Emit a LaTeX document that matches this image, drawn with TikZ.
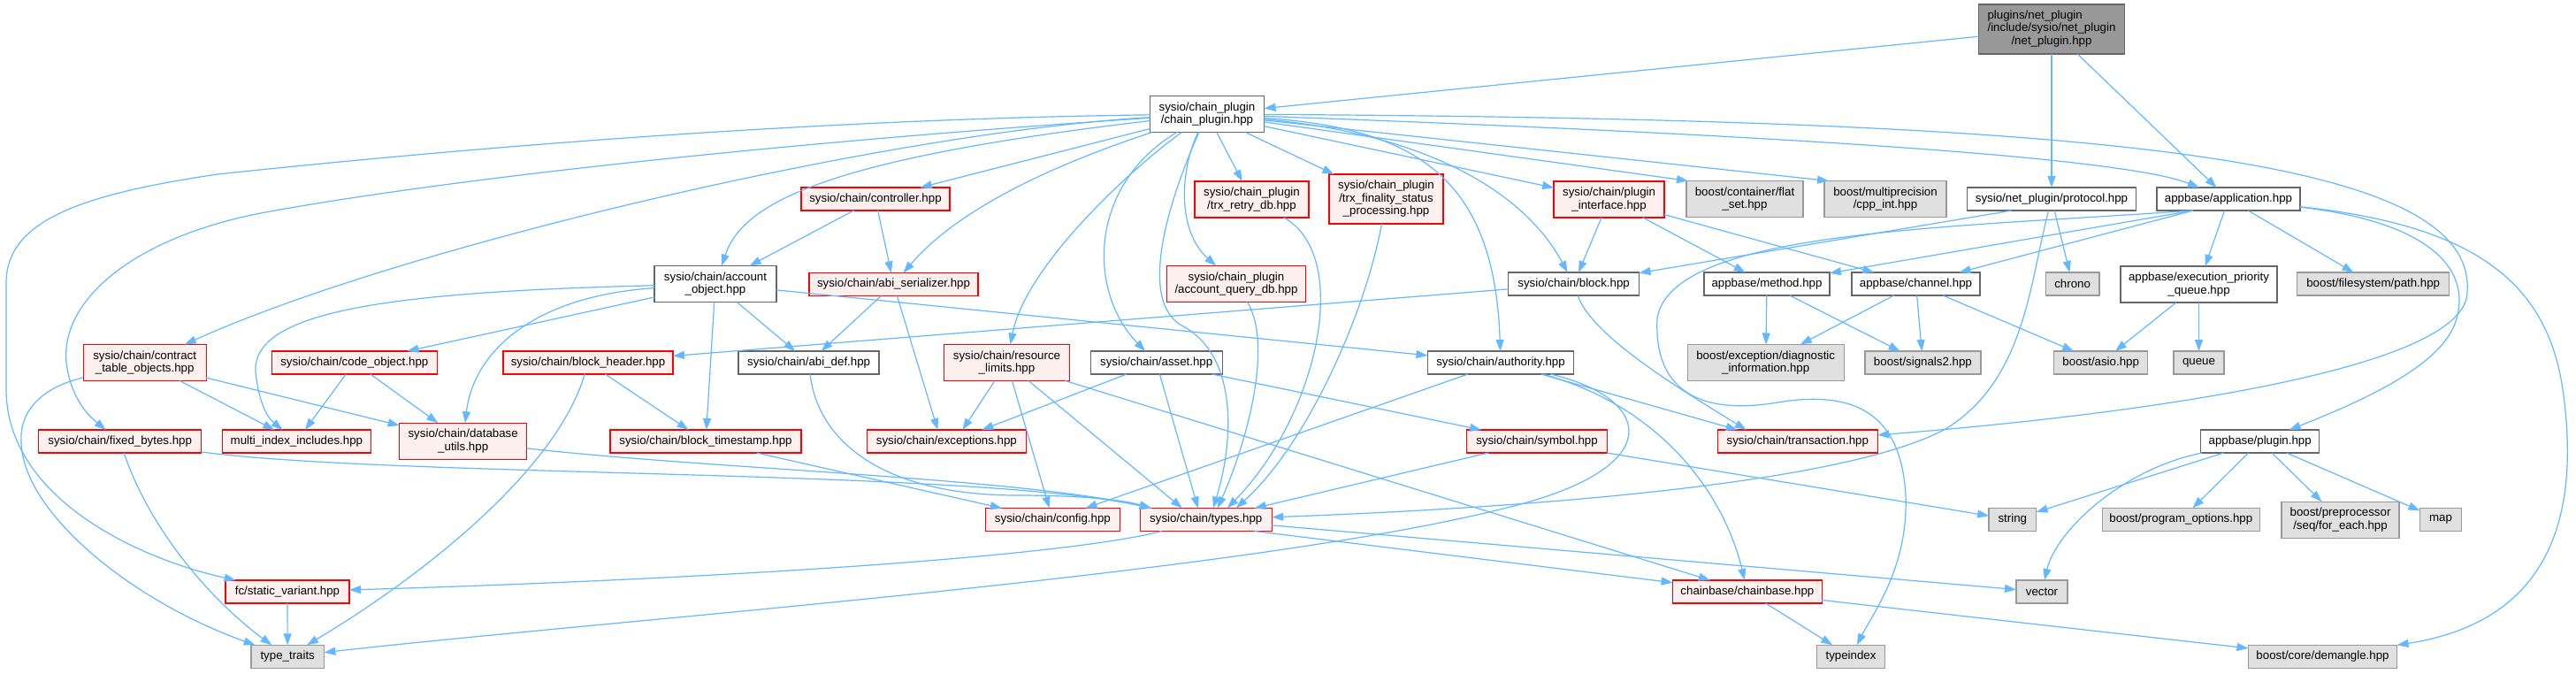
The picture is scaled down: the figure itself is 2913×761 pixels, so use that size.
\documentclass[tikz,border=0pt]{standalone}
\usepackage{fontspec}
\setmainfont{Liberation Sans}
\usetikzlibrary{arrows.meta,calc}
\definecolor{edgec}{HTML}{63B8FF}
\definecolor{cdark}{HTML}{666666}
\definecolor{cgray}{HTML}{999999}
\definecolor{clight}{HTML}{E0E0E0}
\definecolor{cpink}{HTML}{FFF0F0}
\definecolor{cred}{HTML}{FF0000}
\definecolor{croot}{HTML}{999999}
\begin{document}
\begin{tikzpicture}[x=1pt,y=-1pt,
  every node/.style={font=\fontsize{13.3}{14.5}\selectfont},
  sz/.style 2 args={minimum width=#1pt, minimum height=#2pt},
  box/.style={rectangle, inner sep=0pt, outer sep=0pt, align=center, line width=1.3pt},
  wn/.style={box, draw=cdark, fill=white},
  rn/.style={box, draw=cred, fill=cpink},
  gn/.style={box, draw=cgray, fill=clight},
  rt/.style={box, draw=cdark, fill=croot},
  edg/.style={draw=edgec, line width=1.2pt, -{Triangle[length=13pt,width=9pt]}}]
\fill[white] (0,0) rectangle (2913,761);
\useasboundingbox (0,0) rectangle (2913,761);

% row 1-2
\node[rt, sz={165}{56}] (root) at (2320,33) {\begin{tabular}{@{}l@{}}plugins/net\_plugin\\/include/sysio/net\_plugin\\\multicolumn{1}{@{}c@{}}{/net\_plugin.hpp}\end{tabular}};
\node[wn, sz={129}{41}] (cp) at (1365,129) {sysio/chain\_plugin\\/chain\_plugin.hpp};

% row 3
\node[rn, sz={168}{26}] (ctrl) at (990,225) {sysio/chain/controller.hpp};
\node[rn, sz={129}{41}] (retry) at (1415.5,225.5) {sysio/chain\_plugin\\/trx\_retry\_db.hpp};
\node[rn, sz={129}{56}] (fin) at (1567.5,225) {sysio/chain\_plugin\\/trx\_finality\_status\\\_processing.hpp};
\node[rn, sz={125}{41}] (pi) at (1819.6,225.5) {sysio/chain/plugin\\\_interface.hpp};
\node[gn, sz={132}{41}] (flat) at (1973,225) {boost/container/flat\\\_set.hpp};
\node[gn, sz={138}{41}] (cppint) at (2132,225) {boost/multiprecision\\/cpp\_int.hpp};
\node[wn, sz={191}{26}] (proto) at (2320,225) {sysio/net\_plugin/protocol.hpp};
\node[wn, sz={162}{26}] (app) at (2520,225) {appbase/application.hpp};

% row 4
\node[wn, sz={138}{41}] (acct) at (809,321) {sysio/chain/account\\\_object.hpp};
\node[rn, sz={191}{26}] (abis) at (1010.5,321.5) {sysio/chain/abi\_serializer.hpp};
\node[rn, sz={157}{41}] (aqdb) at (1398,321) {sysio/chain\_plugin\\/account\_query\_db.hpp};
\node[wn, sz={148}{26}] (block) at (1779.6,321) {sysio/chain/block.hpp};
\node[wn, sz={142}{26}] (method) at (1998,321) {appbase/method.hpp};
\node[wn, sz={145}{26}] (channel) at (2166.5,321) {appbase/channel.hpp};
\node[gn, sz={60.5}{26}] (chrono) at (2343.6,321) {chrono};
\node[wn, sz={177}{41}] (epq) at (2486.5,321.5) {appbase/execution\_priority\\\_queue.hpp};
\node[gn, sz={172}{26}] (fspath) at (2683.7,321) {boost/filesystem/path.hpp};

% row 5
\node[rn, sz={139}{41}] (cto) at (163.7,410) {sysio/chain/contract\\\_table\_objects.hpp};
\node[rn, sz={187}{26}] (code) at (400.8,410) {sysio/chain/code\_object.hpp};
\node[rn, sz={192}{26}] (bh) at (665,410) {sysio/chain/block\_header.hpp};
\node[wn, sz={159}{26}] (abidef) at (914.6,410) {sysio/chain/abi\_def.hpp};
\node[rn, sz={142}{41}] (rl) at (1138.5,410) {sysio/chain/resource\\\_limits.hpp};
\node[wn, sz={149}{26}] (asset) at (1307.7,410) {sysio/chain/asset.hpp};
\node[wn, sz={165}{26}] (auth) at (1697,410) {sysio/chain/authority.hpp};
\node[gn, sz={177}{41}] (bed) at (1996.7,410) {boost/exception/diagnostic\\\_information.hpp};
\node[gn, sz={131}{26}] (sig) at (2174.4,410) {boost/signals2.hpp};
\node[gn, sz={106}{26}] (asio) at (2375.7,410) {boost/asio.hpp};
\node[gn, sz={57}{26}] (queue) at (2486.5,410) {queue};

% row 6
\node[rn, sz={184}{26}] (fb) at (135.7,499) {sysio/chain/fixed\_bytes.hpp};
\node[rn, sz={168}{26}] (mii) at (335.4,499) {multi\_index\_includes.hpp};
\node[rn, sz={144}{41}] (dbu) at (523.7,498.7) {sysio/chain/database\\\_utils.hpp};
\node[rn, sz={216}{26}] (bts) at (798,499) {sysio/chain/block\_timestamp.hpp};
\node[rn, sz={180}{26}] (exc) at (1070.4,499) {sysio/chain/exceptions.hpp};
\node[rn, sz={159}{26}] (sym) at (1738,499) {sysio/chain/symbol.hpp};
\node[rn, sz={181}{26}] (trx) at (2032.8,499) {sysio/chain/transaction.hpp};
\node[wn, sz={134}{26}] (plugin) at (2555.7,499) {appbase/plugin.hpp};

% row 7
\node[rn, sz={152}{26}] (cfg) at (1190.4,587.5) {sysio/chain/config.hpp};
\node[rn, sz={149}{26}] (types) at (1363.8,587.5) {sysio/chain/types.hpp};
\node[gn, sz={53.5}{26}] (string) at (2275.8,587.5) {string};
\node[gn, sz={178}{26}] (po) at (2466.3,587.5) {boost/program\_options.hpp};
\node[gn, sz={133}{41}] (pp) at (2646.5,587.7) {boost/preprocessor\\/seq/for\_each.hpp};
\node[gn, sz={47}{26}] (map) at (2760,587.5) {map};

% row 8-9
\node[rn, sz={140}{26}] (sv) at (325,669) {fc/static\_variant.hpp};
\node[rn, sz={168.5}{26}] (cb) at (1975.9,669) {chainbase/chainbase.hpp};
\node[gn, sz={58}{26}] (vector) at (2309,669) {vector};
\node[gn, sz={82.4}{26}] (tt) at (325.2,742.3) {type\_traits};
\node[gn, sz={77}{26}] (ti) at (2093,742.3) {typeindex};
\node[gn, sz={168}{26}] (dm) at (2626.5,742.3) {boost/core/demangle.hpp};

% ---- edges: root
\draw[edg] (root) -- (cp);
\draw[edg] (root) -- (proto);
\draw[edg] (root) -- (app);

% chain_plugin
\draw[edg] (cp) -- (ctrl);
\draw[edg] (cp) .. controls (930,180) and (840,230) .. (acct);
\draw[edg] (cp) .. controls (1180,190) and (1080,240) .. (abis);
\draw[edg] (cp) -- (retry);
\draw[edg] (cp) .. controls (1335,190) and (1330,260) .. (aqdb);
\draw[edg] (cp) -- (fin);
\draw[edg] (cp) -- (pi);
\draw[edg] (cp) -- ([xshift=-64pt]flat.north);
\draw[edg] (cp) -- ([xshift=-64pt]cppint.north);
\draw[edg] (cp) .. controls (1800,145) and (2380,170) .. (app);
\draw[edg] (cp) .. controls (2400,135) and (2800,180) .. (2790,330) .. controls (2790,420) and (2400,470) .. (trx);
\draw[edg] (cp) .. controls (1600,150) and (1720,210) .. (block);
\draw[edg] (cp) .. controls (1600,145) and (1690,200) .. (auth);
\draw[edg] (cp) .. controls (1230,210) and (1230,330) .. (asset);
\draw[edg] (cp) .. controls (1280,190) and (1160,300) .. (rl);
\draw[edg] (cp) .. controls (1320,230) and (1285,345) .. (1340,370) .. controls (1400,405) and (1395,500) .. ([xshift=8pt]types.north);
\draw[edg] (cp) .. controls (1000,150) and (450,280) .. (cto);
\draw[edg] (cp) .. controls (900,160) and (520,200) .. (300,240) .. controls (150,268) and (68,340) .. (75,410) .. controls (80,450) and (100,470) .. (fb);
\draw[edg] (cp) .. controls (900,135) and (500,170) .. (246,197) .. controls (90,220) and (7,250) .. (7,320) -- (7,440) .. controls (7,560) and (150,630) .. (sv);

% controller
\draw[edg] (ctrl) -- (acct);
\draw[edg] (ctrl) -- (abis);

% plugin headers to types
\draw[edg] (retry) .. controls (1530,290) and (1490,470) .. ([xshift=24pt]types.north);
\draw[edg] (fin) .. controls (1545,350) and (1480,500) .. ([xshift=34pt]types.north);
\draw[edg] (aqdb) .. controls (1440,390) and (1410,500) .. ([xshift=13pt]types.north);

% plugin_interface
\draw[edg] (pi) -- (block);
\draw[edg] (pi) -- (method);
\draw[edg] (pi) -- (channel);

% protocol
\draw[edg] ([xshift=-45pt]proto.south) -- (block);
\draw[edg] (proto) .. controls (2295,320) and (2290,430) .. (2200,485) .. controls (2080,550) and (1700,575) .. (types);
\draw[edg] (proto) -- (chrono);

% application
\draw[edg] ([xshift=-40pt]app.south) -- (channel);
\draw[edg] ([xshift=-40pt]app.south) -- (method);
\draw[edg] ([xshift=-40pt]app.south) .. controls (2200,258) and (1890,260) .. (1874,360) .. controls (1870,440) and (1920,470) .. (2010,455) .. controls (2100,440) and (2150,470) .. (2155,560) .. controls (2158,640) and (2120,690) .. (ti);
\draw[edg] (app) .. controls (2740,250) and (2795,300) .. (2778,360) .. controls (2765,410) and (2680,450) .. (plugin);
\draw[edg] (app) .. controls (2800,255) and (2880,320) .. (2898,440) .. controls (2915,560) and (2900,700) .. (dm);
\draw[edg] (app) -- (epq);
\draw[edg] (app) -- (fspath);

% account_object
\draw[edg] (acct) -- (code);
\draw[edg] (acct) .. controls (450,330) and (285,350) .. (289,420) .. controls (292,450) and (300,470) .. (mii);
\draw[edg] (acct) .. controls (600,335) and (535,400) .. (dbu);
\draw[edg] (acct) -- (bts);
\draw[edg] (acct) -- (abidef);
\draw[edg] (acct) -- (auth);

% abi_serializer
\draw[edg] (abis) -- (abidef);
\draw[edg] (abis) -- ([xshift=-10pt]exc.north);

% block
\draw[edg] (block) -- (bh);
\draw[edg] (block) .. controls (1800,380) and (1900,440) .. ([xshift=-58pt]trx.north);

% method / channel / queue
\draw[edg] (method) -- (bed);
\draw[edg] (method) -- (sig);
\draw[edg] (channel) -- (bed);
\draw[edg] (channel) -- (sig);
\draw[edg] (channel) -- (asio);
\draw[edg] (epq) -- (asio);
\draw[edg] (epq) -- (queue);

% contract_table_objects, code_object
\draw[edg] (cto) -- (mii);
\draw[edg] (cto) -- (dbu);
\draw[edg] (cto) .. controls (40,440) and (22,470) .. (24,500) .. controls (26,580) and (150,680) .. (tt);
\draw[edg] (code) -- (mii);
\draw[edg] (code) -- (dbu);

% block_header
\draw[edg] (bh) .. controls (630,530) and (480,650) .. (tt);
\draw[edg] (bh) -- (bts);

% abi_def
\draw[edg] (abidef) .. controls (925,500) and (1000,560) .. (1150,560) .. controls (1220,560) and (1270,565) .. ([xshift=-62pt]types.north);

% resource_limits
\draw[edg] (rl) -- ([xshift=18pt]exc.north);
\draw[edg] (rl) -- (cfg);
\draw[edg] (rl) -- ([xshift=-27pt]types.north);
\draw[edg] (rl) -- (cb);

% asset
\draw[edg] (asset) -- ([xshift=40pt]exc.north);
\draw[edg] (asset) -- ([xshift=-9pt]types.north);
\draw[edg] (asset) -- (sym);

% authority
\draw[edg] (auth) -- (cfg);
\draw[edg] (auth) -- ([xshift=-68pt]trx.north);
\draw[edg] (auth) .. controls (1880,460) and (1950,560) .. (cb);
\draw[edg] (auth) .. controls (1870,450) and (1890,530) .. (1700,575) .. controls (1400,650) and (700,700) .. (tt);

% fixed_bytes, database_utils, block_timestamp
\draw[edg] (fb) .. controls (170,600) and (240,680) .. (tt);
\draw[edg] (fb) .. controls (450,540) and (1100,530) .. ([xshift=-62pt]types.north);
\draw[edg] (dbu) .. controls (800,530) and (1150,540) .. ([xshift=-62pt]types.north);
\draw[edg] (bts) -- (cfg);

% symbol
\draw[edg] (sym) -- (types);
\draw[edg] (sym) -- (string);

% plugin
\draw[edg] (plugin) -- (string);
\draw[edg] (plugin) .. controls (2400,530) and (2325,600) .. (vector);
\draw[edg] (plugin) -- (po);
\draw[edg] (plugin) -- (pp);
\draw[edg] (plugin) -- (map);

% types
\draw[edg] (types) .. controls (1200,630) and (800,655) .. (sv);
\draw[edg] ([xshift=55pt]types.south) -- (cb);
\draw[edg] (types) -- (vector);

% static_variant, chainbase
\draw[edg] (sv) -- (tt);
\draw[edg] (cb) -- (ti);
\draw[edg] (cb) -- (dm);
\end{tikzpicture}
\end{document}
